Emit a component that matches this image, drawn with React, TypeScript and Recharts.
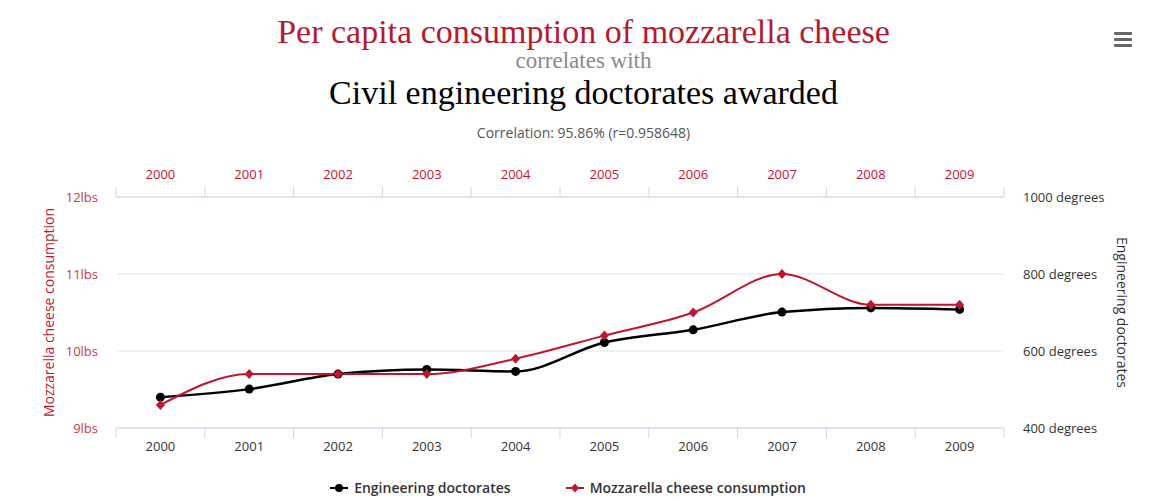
import { CartesianGrid, Legend, Line, LineChart, XAxis, YAxis } from "recharts"

const years = ["2000", "2001", "2002", "2003", "2004", "2005", "2006", "2007", "2008", "2009"]
const mozzarella = [9.3, 9.7, 9.7, 9.7, 9.9, 10.2, 10.5, 11, 10.6, 10.6]
const doctorates = [480, 501, 540, 552, 547, 622, 655, 701, 712, 708]
const lbsTicks = [9, 10, 11, 12]
const degreeTicks = [400, 600, 800, 1000]

const data = years.map((year, i) => ({
  year,
  mozzarella: mozzarella[i],
  doctorates: doctorates[i],
}))

const RED = "#c0152f"
const AXIS = "#ccd6eb"
const SANS = "'Open Sans', sans-serif"
const SERIF = "'Liberation Serif', serif"

// highcharts-like ticks sitting between categories
function makeTick(top: boolean, color: string) {
  return (props: any) => {
    const { x, y, payload, index, visibleTicksCount } = props
    const off = payload.offset ?? 0
    const dir = top ? -1 : 1
    const last = index === visibleTicksCount - 1
    return (
      <g>
        <line x1={x - off} x2={x - off} y1={y} y2={y + dir * 10} stroke={AXIS} />
        {last && <line x1={x + off} x2={x + off} y1={y} y2={y + dir * 10} stroke={AXIS} />}
        <text
          x={x}
          y={top ? y - 18 : y + 23}
          textAnchor="middle"
          fill={color}
          fontSize={13}
          fontFamily={SANS}
        >
          {payload.value}
        </text>
      </g>
    )
  }
}

const Diamond = (props: any) => {
  const { cx, cy } = props
  if (cx == null || cy == null) return null
  return <path d={`M${cx},${cy - 5}L${cx + 4.5},${cy}L${cx},${cy + 5}L${cx - 4.5},${cy}Z`} fill={RED} />
}

const LeftTitle = (props: any) => {
  const vb = props.viewBox
  const x = vb.x + vb.width - 68
  const y = vb.y + vb.height / 2
  return (
    <text x={x} y={y} transform={`rotate(-90 ${x} ${y})`} textAnchor="middle" dominantBaseline="central" fill={RED} fontSize={14} fontFamily={SANS}>
      Mozzarella cheese consumption
    </text>
  )
}

const RightTitle = (props: any) => {
  const vb = props.viewBox
  const x = vb.x + 118
  const y = vb.y + vb.height / 2
  return (
    <text x={x} y={y} transform={`rotate(90 ${x} ${y})`} textAnchor="middle" dominantBaseline="central" fill="#333" fontSize={14} fontFamily={SANS}>
      Engineering doctorates
    </text>
  )
}

const LegendIcon = ({ color, diamond }: { color: string; diamond: boolean }) => (
  <svg width={18} height={12} style={{ marginRight: 6 }}>
    <line x1={0} x2={18} y1={6} y2={6} stroke={color} strokeWidth={2} />
    {diamond ? <path d="M9,1.5L13,6L9,10.5L5,6Z" fill={color} /> : <circle cx={9} cy={6} r={4} fill={color} />}
  </svg>
)

const renderLegend = () => (
  <div style={{ height: 42, paddingTop: 17, boxSizing: "border-box", display: "flex", justifyContent: "center", paddingRight: 14 }}>
    <div style={{ display: "flex", alignItems: "center", marginRight: 55, lineHeight: "20px" }}>
      <LegendIcon color="#000" diamond={false} />
      <span style={{ fontFamily: SANS, fontSize: 14, fontWeight: 600, color: "#333" }}>Engineering doctorates</span>
    </div>
    <div style={{ display: "flex", alignItems: "center", lineHeight: "20px" }}>
      <LegendIcon color={RED} diamond />
      <span style={{ fontFamily: SANS, fontSize: 14, fontWeight: 600, color: "#333" }}>Mozzarella cheese consumption</span>
    </div>
  </div>
)

export default function App() {
  return (
    <div style={{ position: "absolute", left: 0, top: 0, width: 1167, height: 500, background: "#fff", overflow: "hidden" }}>
      <div style={{ position: "absolute", top: 15, left: 0, width: 1167, textAlign: "center", fontFamily: SERIF, fontSize: 34, lineHeight: "34px", color: "#b51a30" }}>
        Per capita consumption of mozzarella cheese
      </div>
      <div style={{ position: "absolute", top: 49, left: 0, width: 1167, textAlign: "center", fontFamily: SERIF, fontSize: 23, lineHeight: "23px", color: "#8a8a8a" }}>
        correlates with
      </div>
      <div style={{ position: "absolute", top: 76, left: 0, width: 1167, textAlign: "center", fontFamily: SERIF, fontSize: 34, lineHeight: "34px", color: "#000" }}>
        Civil engineering doctorates awarded
      </div>
      <div style={{ position: "absolute", top: 123, left: 0, width: 1167, textAlign: "center", fontFamily: SANS, fontSize: 14, lineHeight: "20px", color: "#555" }}>
        Correlation: 95.86% (r=0.958648)
      </div>
      <svg style={{ position: "absolute", left: 1112, top: 30 }} width={22} height={20}>
        <rect x={2} y={2} width={18} height={3} rx={1} fill="#666" />
        <rect x={2} y={8} width={18} height={3} rx={1} fill="#666" />
        <rect x={2} y={14} width={18} height={3} rx={1} fill="#666" />
      </svg>
      <div style={{ position: "absolute", left: 0, top: 150 }}>
        <LineChart width={1150} height={350} data={data} margin={{ top: 17, right: 20, bottom: 0, left: 20 }}>
          <CartesianGrid yAxisId="lbs" vertical={false} stroke="#e6e6e6" />
          <XAxis
            xAxisId="top"
            dataKey="year"
            orientation="top"
            scale="band"
            height={30}
            tickSize={0}
            tickMargin={0}
            axisLine={{ stroke: AXIS }}
            tickLine={false}
            tick={makeTick(true, RED)}
            interval={0}
          />
          <XAxis
            xAxisId="bottom"
            dataKey="year"
            scale="band"
            height={30}
            tickSize={0}
            tickMargin={0}
            axisLine={{ stroke: AXIS }}
            tickLine={false}
            tick={makeTick(false, "#333")}
            interval={0}
          />
          <YAxis
            yAxisId="lbs"
            domain={[9, 12]}
            ticks={lbsTicks}
            width={96}
            axisLine={false}
            tickLine={false}
            tickMargin={12}
            tick={{ fill: "#c43a4a", fontSize: 13, fontFamily: SANS }}
            tickFormatter={(v) => `${v}lbs`}
            label={LeftTitle}
          />
          <YAxis
            yAxisId="deg"
            orientation="right"
            domain={[400, 1000]}
            ticks={degreeTicks}
            width={126}
            axisLine={false}
            tickLine={false}
            tickMargin={13}
            tick={{ fill: "#333", fontSize: 13, fontFamily: SANS }}
            tickFormatter={(v) => `${v} degrees`}
            label={RightTitle}
          />
          <Line
            xAxisId="top"
            yAxisId="lbs"
            dataKey="mozzarella"
            stroke="none"
            dot={false}
            activeDot={false}
            legendType="none"
            isAnimationActive={false}
          />
          <Line
            xAxisId="bottom"
            yAxisId="deg"
            type="monotone"
            dataKey="doctorates"
            name="Engineering doctorates"
            stroke="#000"
            strokeWidth={2.5}
            dot={{ r: 4.5, fill: "#000", stroke: "none" }}
            isAnimationActive={false}
          />
          <Line
            xAxisId="bottom"
            yAxisId="lbs"
            type="monotone"
            dataKey="mozzarella"
            name="Mozzarella cheese consumption"
            stroke={RED}
            strokeWidth={2}
            dot={<Diamond />}
            isAnimationActive={false}
          />
          <Legend verticalAlign="bottom" height={42} content={renderLegend} wrapperStyle={{ bottom: 0 }} />
        </LineChart>
      </div>
    </div>
  )
}
